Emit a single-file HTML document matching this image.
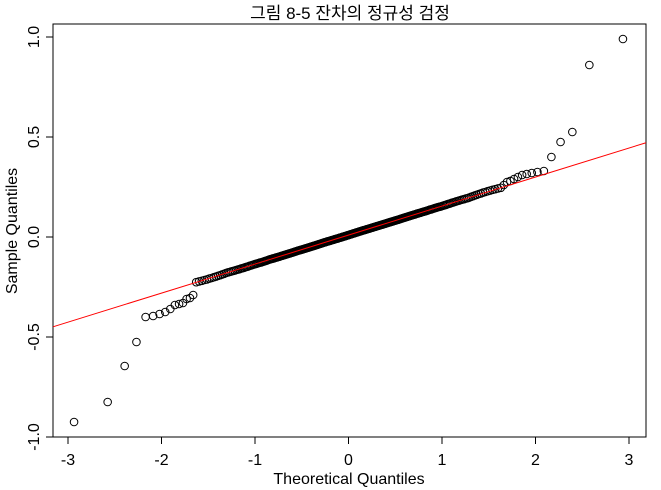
<!DOCTYPE html>
<html><head><meta charset="utf-8">
<style>
html,body{margin:0;padding:0;background:#fff;}
svg{display:block;font-family:"Liberation Sans","Noto Sans CJK KR",sans-serif;}
</style></head>
<body>
<svg id="chart" width="661" height="490" viewBox="0 0 661 490">
<text x="350" y="19" text-anchor="middle" font-size="17">그림 8-5 잔차의 정규성 검정</text>
<rect x="53" y="24" width="593" height="413" fill="none" stroke="#000" stroke-width="1"/>
<g id="xaxis"></g>
<g id="yaxis"></g>
<text x="349" y="484" text-anchor="middle" font-size="16">Theoretical Quantiles</text>
<text x="0" y="0" transform="translate(17,231) rotate(-90)" text-anchor="middle" font-size="16">Sample Quantiles</text>
<g id="points"></g>
<line id="qqline" stroke="#f00" stroke-width="1"/>
</svg>
<script>
const xTicks=[-3,-2,-1,0,1,2,3];
const xTickLabels=["-3","-2","-1","0","1","2","3"];
const yTicks=[-1,-0.5,0,0.5,1];
const yTickLabels=["-1.0","-0.5","0.0","0.5","1.0"];
const sampleQuantiles=[-0.925,-0.825,-0.645,-0.525,-0.40,-0.395,-0.385,-0.375,-0.36,-0.34,-0.335,-0.33,-0.31,-0.305,-0.29,
-0.226,-0.222,-0.219,-0.215,-0.212,-0.208,-0.205,-0.201,-0.198,-0.194,-0.191,-0.187,-0.184,-0.180,
-0.177,-0.175,-0.172,-0.170,-0.168,-0.165,-0.163,-0.161,-0.158,-0.156,-0.154,-0.151,-0.149,-0.147,-0.144,
-0.142,-0.140,-0.138,-0.136,-0.134,-0.132,-0.130,-0.128,-0.127,-0.125,-0.123,-0.121,-0.119,-0.117,-0.115,
-0.113,-0.111,-0.110,-0.108,-0.107,-0.105,-0.103,-0.102,-0.100,-0.099,-0.097,-0.095,-0.094,-0.092,-0.091,
-0.089,-0.088,-0.086,-0.085,-0.083,-0.082,-0.080,-0.079,-0.077,-0.076,-0.074,-0.073,-0.071,-0.070,-0.068,
-0.067,-0.066,-0.064,-0.063,-0.062,-0.060,-0.059,-0.058,-0.056,-0.055,-0.054,-0.052,-0.051,-0.050,-0.048,
-0.047,-0.046,-0.044,-0.043,-0.042,-0.040,-0.039,-0.038,-0.036,-0.035,-0.034,-0.032,-0.031,-0.030,-0.028,
-0.027,-0.026,-0.025,-0.023,-0.022,-0.021,-0.020,-0.019,-0.017,-0.016,-0.015,-0.014,-0.013,-0.011,-0.010,
-0.009,-0.008,-0.007,-0.005,-0.004,-0.003,-0.002,-0.001,0.001,0.002,0.003,0.004,0.005,0.007,0.008,
0.009,0.010,0.012,0.013,0.014,0.015,0.017,0.018,0.019,0.020,0.022,0.023,0.024,0.025,0.027,
0.028,0.029,0.030,0.032,0.033,0.034,0.035,0.036,0.038,0.039,0.040,0.041,0.042,0.044,0.045,
0.046,0.047,0.049,0.050,0.051,0.052,0.054,0.055,0.056,0.057,0.059,0.060,0.061,0.062,0.064,
0.065,0.066,0.068,0.069,0.070,0.072,0.073,0.074,0.076,0.077,0.078,0.080,0.081,0.082,0.084,
0.085,0.086,0.088,0.089,0.091,0.092,0.094,0.095,0.097,0.098,0.100,0.101,0.103,0.104,0.106,
0.107,0.109,0.110,0.112,0.113,0.115,0.117,0.118,0.120,0.121,0.123,0.125,0.126,0.128,0.129,
0.131,0.133,0.135,0.137,0.138,0.140,0.142,0.144,0.146,0.148,0.150,0.151,0.153,0.155,0.157,
0.159,0.161,0.164,0.166,0.168,0.171,0.173,0.175,0.178,0.180,0.182,0.185,0.187,0.189,0.192,
0.194,0.197,0.201,0.204,0.208,0.211,0.215,0.218,0.222,0.225,0.229,0.232,0.236,0.239,0.243,0.246,
0.26,0.275,0.28,0.29,0.30,0.31,0.315,0.32,0.325,0.33,0.40,0.475,0.525,0.86,0.99];

const NS="http://www.w3.org/2000/svg";
function X(q){return 348.5+93.5*q;}
function Y(v){return 237-200*v;}
function qnorm(p){
  const a=[-3.969683028665376e+01,2.209460984245205e+02,-2.759285104469687e+02,1.383577518672690e+02,-3.066479806614716e+01,2.506628277459239e+00];
  const b=[-5.447609879822406e+01,1.615858368580409e+02,-1.556989798598866e+02,6.680131188771972e+01,-1.328068155288572e+01];
  const c=[-7.784894002430293e-03,-3.223964580411365e-01,-2.400758277161838e+00,-2.549732539343734e+00,4.374664141464968e+00,2.938163982698783e+00];
  const d=[7.784695709041462e-03,3.224671290700398e-01,2.445134137142996e+00,3.754408661907416e+00];
  const pl=0.02425;let q,r;
  if(p<pl){q=Math.sqrt(-2*Math.log(p));return (((((c[0]*q+c[1])*q+c[2])*q+c[3])*q+c[4])*q+c[5])/((((d[0]*q+d[1])*q+d[2])*q+d[3])*q+1);}
  if(p>1-pl){q=Math.sqrt(-2*Math.log(1-p));return -(((((c[0]*q+c[1])*q+c[2])*q+c[3])*q+c[4])*q+c[5])/((((d[0]*q+d[1])*q+d[2])*q+d[3])*q+1);}
  q=p-0.5;r=q*q;return (((((a[0]*r+a[1])*r+a[2])*r+a[3])*r+a[4])*r+a[5])*q/(((((b[0]*r+b[1])*r+b[2])*r+b[3])*r+b[4])*r+1);
}
function mk(tag,attrs,parent){const e=document.createElementNS(NS,tag);for(const k in attrs)e.setAttribute(k,attrs[k]);parent.appendChild(e);return e;}

const xa=document.getElementById('xaxis');
mk('line',{x1:X(xTicks[0]),x2:X(xTicks[xTicks.length-1]),y1:437,y2:437,stroke:'#000'},xa);
xTicks.forEach((t,i)=>{
  const l=mk('line',{x1:X(t),x2:X(t),y1:437,y2:444,stroke:'#000'},xa);
  
  
  const tx=mk('text',{x:X(t),y:465,'text-anchor':'middle','font-size':16},xa);
  
  
  tx.textContent=xTickLabels[i];
});
const ya=document.getElementById('yaxis');
mk('line',{x1:53,x2:53,y1:Y(yTicks[0]),y2:Y(yTicks[yTicks.length-1]),stroke:'#000'},ya);
yTicks.forEach((t,i)=>{
  const l=mk('line',{x1:46,x2:53,y1:Y(t),y2:Y(t),stroke:'#000'},ya);
  
  
  const tx=mk('text',{x:0,y:0,transform:'translate(39,'+Y(t)+') rotate(-90)','text-anchor':'middle','font-size':16},ya);
  
  
  tx.textContent=yTickLabels[i];
});

const n=sampleQuantiles.length;
const pts=document.getElementById('points');
sampleQuantiles.forEach((v,i)=>{
  const q=qnorm((i+1-0.5)/n);
  const c=mk('circle',{cx:X(q),cy:Y(v),r:3.8,fill:'none',stroke:'#000','stroke-width':1},pts);
  
  
});
// qqline through quartiles
function quant(arr,p){const h=(arr.length-1)*p;const lo=Math.floor(h);return arr[lo]+(h-lo)*(arr[lo+1]-arr[lo]);}
const y1=quant(sampleQuantiles,0.25),y2=quant(sampleQuantiles,0.75);
const x1=qnorm(0.25),x2=qnorm(0.75);
const slope=(y2-y1)/(x2-x1),icpt=y1-slope*x1;
const qa=(53-348.5)/93.5,qb=(646-348.5)/93.5;
const ln=document.getElementById('qqline');
ln.setAttribute('x1',53);ln.setAttribute('x2',646);
ln.setAttribute('y1',Y(icpt+slope*qa));ln.setAttribute('y2',Y(icpt+slope*qb));
</script>
</body></html>
